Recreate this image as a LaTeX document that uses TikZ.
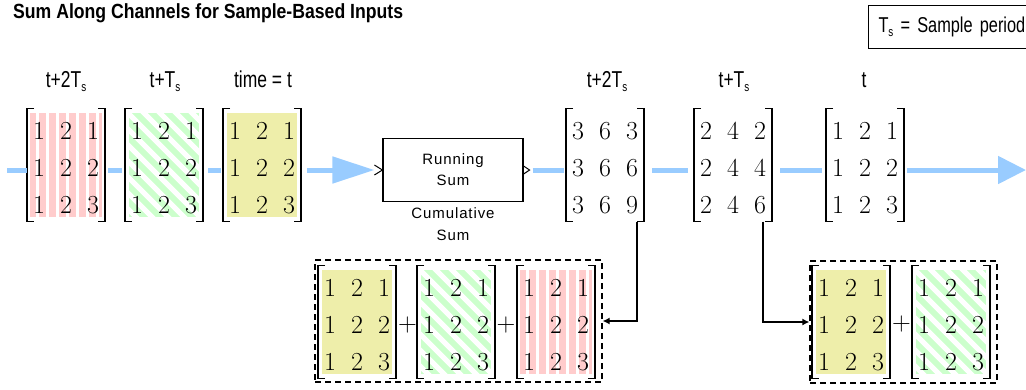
\documentclass[tikz,border=0pt]{standalone}
\usepackage{fontspec}
\newfontfamily\condf[FakeStretch=0.76]{Liberation Sans}
\newfontfamily\titlef[FakeStretch=0.86]{Liberation Sans}
\newfontfamily\blockf[LetterSpace=6]{Liberation Sans}
\usetikzlibrary{arrows.meta}
\definecolor{bluec}{RGB}{153,204,255}
\definecolor{redc}{RGB}{255,204,204}
\definecolor{greenc}{RGB}{204,255,204}
\definecolor{yelc}{RGB}{238,238,170}
\tikzset{
 matbox/.style={minimum width=78pt, minimum height=113pt, inner sep=0pt, outer sep=0pt},
 brk/.style={line width=1.4pt, black},
 num/.style={font=\fontsize{26}{26}\selectfont\addfontfeature{FakeBold=1.2}, inner sep=0pt},
 lbl/.style={font=\condf\fontsize{23}{23}\selectfont, inner sep=0pt, anchor=base},
 blueline/.style={line width=5pt, draw=bluec},
 conn/.style={line width=1.3pt, -{Latex[length=7pt,width=7pt]}},
 dbox/.style={draw, dash pattern=on 6pt off 4pt, line width=1.3pt, inner sep=0pt},
 plus/.style={font=\fontsize{26}{26}\selectfont\addfontfeature{FakeBold=1.2}, inner sep=0pt},
}
\newcommand\redfill[2]{%
 \fill[redc] ({#1-36},{#2-52}) rectangle ({#1+36},{#2+52});
 \foreach \k in {0,...,6}{\fill[white] ({#1-36+6+\k*10},{#2-52}) rectangle ({#1-36+9+\k*10},{#2+52});}}
\newcommand\greenfill[2]{%
 \begin{scope}
 \clip ({#1-35},{#2-52}) rectangle ({#1+35},{#2+52});
 \fill[greenc] ({#1-35},{#2-52}) rectangle ({#1+35},{#2+52});
 \foreach \k in {-7,...,7}{\draw[white,line width=5pt] ({#1+\k*16-60},{#2-60}) -- ++(120,120);}
 \end{scope}}
\newcommand\yelfill[2]{\fill[yelc] ({#1-35},{#2-52}) rectangle ({#1+35},{#2+52});}
\newcommand\nofill[2]{}
\newcommand\mymat[5]{%
 \node[matbox] (#1) at (#2,#3) {};
 #4{#2}{#3}
 \draw[brk] ([xshift=7pt]#1.north west) -- (#1.north west) -- (#1.south west) -- ([xshift=7pt]#1.south west);
 \draw[brk] ([xshift=-7pt]#1.north east) -- (#1.north east) -- (#1.south east) -- ([xshift=-7pt]#1.south east);
 \foreach \a/\b/\c [count=\i] in {#5}{%
  \node[num] (#1-\i-1) at ({#2-27},{#3+3+(\i-2)*37}) {\a};
  \node[num] (#1-\i-2) at ({#2},{#3+3+(\i-2)*37}) {\b};
  \node[num] (#1-\i-3) at ({#2+27},{#3+3+(\i-2)*37}) {\c};
 }}
\newcommand\Ts{T\raisebox{-4pt}{\fontsize{13}{13}\selectfont s}}
\begin{document}
\begin{tikzpicture}[x=1pt,y=-1pt]
\clip (0,0) rectangle (1026,389);
\useasboundingbox (0,0) rectangle (1026,389);
% title
\node[anchor=base west, inner sep=0pt, font=\titlef\bfseries\fontsize{20.5}{20.5}\selectfont] (title) at (13,18) {Sum Along Channels for Sample-Based Inputs};
\node[draw, line width=1pt, anchor=west, minimum width=175pt, minimum height=43pt, inner xsep=9pt, align=left, text width=155pt, font=\condf\fontsize{21.5}{21.5}\selectfont] (ts) at (868,26.5) {\Ts\ = Sample period};
% top labels
\node[lbl] (l1) at (66,87) {t+2\Ts};
\node[lbl] (l2) at (165,87) {t+\Ts};
\node[lbl] (l3) at (263,87) {time = t};
\node[lbl] (l4) at (607,87) {t+2\Ts};
\node[lbl] (l5) at (734,87) {t+\Ts};
\node[lbl] (l6) at (864,87) {t};
% top matrices
\mymat{m1}{66}{165}{\redfill}{1/2/1,1/2/2,1/2/3}
\mymat{m2}{164}{165}{\greenfill}{1/2/1,1/2/2,1/2/3}
\mymat{m3}{262}{165}{\yelfill}{1/2/1,1/2/2,1/2/3}
\mymat{m4}{605}{165}{\nofill}{3/6/3,3/6/6,3/6/9}
\mymat{m5}{733}{165}{\nofill}{2/4/2,2/4/4,2/4/6}
\mymat{m6}{865}{165}{\nofill}{1/2/1,1/2/2,1/2/3}
% block
\node[draw, line width=1.2pt, minimum width=140pt, minimum height=63pt, align=center, font=\blockf\fontsize{15}{21}\selectfont] (rs) at (453,170) {Running\\Sum};
\node[anchor=north, align=center, inner sep=0pt, font=\blockf\fontsize{15}{22}\selectfont] (cs) at (453,207) {Cumulative\\Sum};
\draw[line width=1pt] ([xshift=-8pt,yshift=-5pt]rs.west) -- (rs.west) -- ([xshift=-8pt,yshift=5pt]rs.west);
\draw[line width=1pt] ([yshift=4pt]rs.east) -- ([xshift=6pt]rs.east) -- ([yshift=-4pt]rs.east);
% blue signal lines
\coordinate (start) at (7,170);
\coordinate (end) at (1026,170);
\draw[blueline] (start) -- ([yshift=-5pt]m1.west);
\draw[blueline, shorten <=3pt, shorten >=3pt] ([yshift=-5pt]m1.east) -- ([yshift=-5pt]m2.west);
\draw[blueline, shorten <=5pt, shorten >=2pt] ([yshift=-5pt]m2.east) -- ([yshift=-5pt]m3.west);
\draw[blueline, shorten <=6pt, shorten >=8pt, -{Triangle[length=42pt,width=26pt]}] ([yshift=-5pt]m3.east) -- (rs.west);
\draw[blueline, shorten <=9pt, shorten >=2pt] (rs.east) -- ([yshift=-5pt]m4.west);
\draw[blueline, shorten <=8pt, shorten >=6pt] ([yshift=-5pt]m4.east) -- ([yshift=-5pt]m5.west);
\draw[blueline, shorten <=8pt, shorten >=4pt] ([yshift=-5pt]m5.east) -- ([yshift=-5pt]m6.west);
\draw[blueline, shorten <=3pt, -{Triangle[length=28pt,width=27pt]}] ([yshift=-5pt]m6.east) -- (end);
% bottom boxes
\node[dbox, minimum width=287pt, minimum height=122pt] (bl) at (458.5,321) {};
\node[dbox, minimum width=187pt, minimum height=122pt] (br) at (903.5,322) {};
\mymat{b1}{357}{322}{\yelfill}{1/2/1,1/2/2,1/2/3}
\mymat{b2}{456}{322}{\greenfill}{1/2/1,1/2/2,1/2/3}
\mymat{b3}{556}{322}{\redfill}{1/2/1,1/2/2,1/2/3}
\mymat{c1}{851}{322}{\yelfill}{1/2/1,1/2/2,1/2/3}
\mymat{c2}{951}{322}{\greenfill}{1/2/1,1/2/2,1/2/3}
\node[plus] (p1) at (407.5,325) {+};
\node[plus] (p2) at (506,325) {+};
\node[plus] (p3) at (901.5,324) {+};
% connectors
\draw[conn] ([xshift=32pt]m4.south) |- (bl.east);
\draw[conn] ([xshift=30pt]m5.south) |- (br.west);
\end{tikzpicture}
\end{document}
